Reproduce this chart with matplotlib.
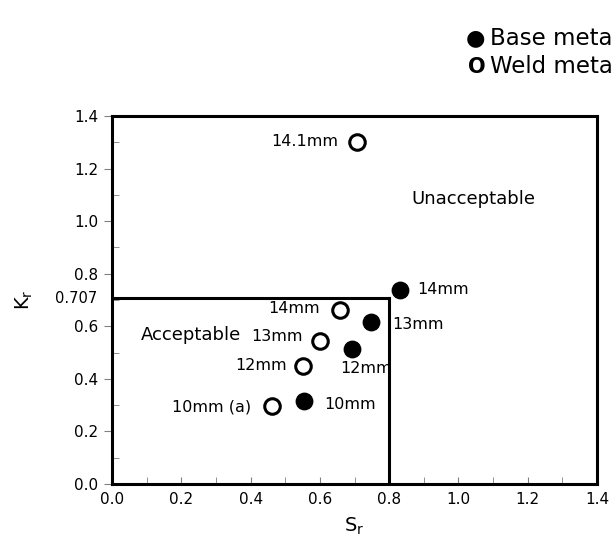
import numpy as np
import matplotlib.pyplot as plt
from matplotlib.ticker import MultipleLocator
from matplotlib.transforms import blended_transform_factory

# Datos
base_sr = [0.831, 0.748, 0.693, 0.554]
base_kr = [0.738, 0.616, 0.514, 0.316]
base_lbl = ['14mm', '13mm', '12mm', '10mm']

weld_sr = [0.707, 0.658, 0.600, 0.551, 0.462]
weld_kr = [1.301, 0.662, 0.544, 0.449, 0.297]
weld_lbl = ['14.1mm', '14mm', '13mm', '12mm', '10mm (a)']

# desplazamientos de etiquetas (pixeles)
base_off = [(17, 0), (21, -2), (-12, -20), (20, -4)]
weld_off = [(-19, 0), (-20, 1), (-17, 4), (-16, 0), (-21, -1)]

lim_sr = 0.8
lim_kr = 0.707

plt.rcParams['font.family'] = ['DejaVu Sans']
fig = plt.figure(figsize=(6.11, 5.52), dpi=100)
ax = fig.add_axes([0.1833, 0.1232, 0.7938, 0.6667])

ax.scatter(base_sr, base_kr, s=140, color='black', zorder=3, clip_on=False)
ax.scatter(weld_sr, weld_kr, s=125, facecolor='white', edgecolor='black',
           linewidth=2.2, zorder=3, clip_on=False)

for x, y, t, o in zip(base_sr, base_kr, base_lbl, base_off):
    ax.annotate(t, (x, y), xytext=o, textcoords='offset pixels',
                ha='left', va='center', fontsize=11.5)
for x, y, t, o in zip(weld_sr, weld_kr, weld_lbl, weld_off):
    ax.annotate(t, (x, y), xytext=o, textcoords='offset pixels',
                ha='right', va='center', fontsize=11.5)

# Region aceptable
ax.plot([0, lim_sr], [lim_kr, lim_kr], color='black', lw=2.2)
ax.plot([lim_sr, lim_sr], [0, lim_kr], color='black', lw=2.2)

ax.text(0.228, 0.568, 'Acceptable', fontsize=13, ha='center', va='center')
ax.text(1.042, 1.084, 'Unacceptable', fontsize=13, ha='center', va='center')

ax.set_xlim(0, 1.4)
ax.set_ylim(0, 1.4)
ax.xaxis.set_major_locator(MultipleLocator(0.2))
ax.xaxis.set_minor_locator(MultipleLocator(0.1))
ax.yaxis.set_major_locator(MultipleLocator(0.2))
ax.yaxis.set_minor_locator(MultipleLocator(0.1))
ax.xaxis.set_major_formatter(lambda v, p: f'{v:.1f}')
ax.yaxis.set_major_formatter(lambda v, p: f'{v:.1f}')
ax.tick_params(axis='x', which='both', direction='in', length=5, color='gray',
               labelsize=11, pad=6)
ax.tick_params(axis='y', which='major', direction='out', length=6, color='gray',
               labelsize=11, pad=4)
ax.tick_params(axis='y', which='minor', direction='in', length=5, color='gray')
for s in ax.spines.values():
    s.set_linewidth(2.2)

tr = blended_transform_factory(ax.transAxes, ax.transData)
ax.text(-0.03, lim_kr, '0.707', transform=tr, ha='right', va='center', fontsize=10.5)

ax.set_xlabel('$\\mathregular{S_r}$', fontsize=14, labelpad=6)
ax.set_ylabel('$\\mathregular{K_r}$', fontsize=14, labelpad=28)

# Leyenda (recortada en el borde)
fig.text(0.778, 0.931, '\u25cf', fontsize=16, ha='center', va='center')
fig.text(0.802, 0.931, 'Base metal', fontsize=16.5, ha='left', va='center')
fig.text(0.781, 0.879, 'O', fontsize=15, ha='center', va='center', fontweight='bold')
fig.text(0.802, 0.879, 'Weld metal', fontsize=16.5, ha='left', va='center')

fig.savefig('out.png', dpi=100)
